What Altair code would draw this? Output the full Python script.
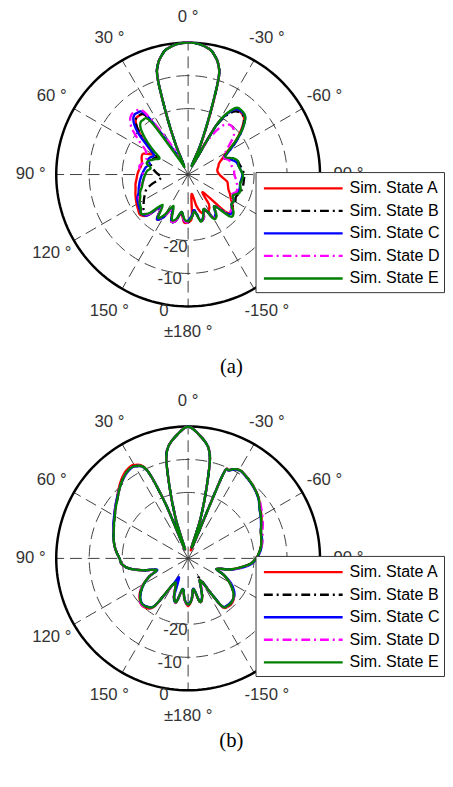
import math
import altair as alt
import pandas as pd

# ---------------- data (dB values) ----------------
ANGLES = [-180, -175, -170, -165, -160, -155, -150, -145, -140, -135, -130, -125, -120, -115, -110, -105,
          -100, -95, -90, -85, -80, -75, -70, -65, -60, -55, -50, -45, -40, -35, -30, -25,
          -22.5, -20, -17.5, -15, -12.5, -10, -5, 0, 5, 10, 12.5, 15, 17.5, 20, 22.5,
          25, 30, 35, 40, 45, 50, 55, 60, 65, 70, 75, 80, 85, 90, 95, 100,
          105, 110, 115, 120, 125, 130, 135, 140, 145, 150, 155, 160, 165, 170, 175]

SERIES = ["Sim. State A", "Sim. State B", "Sim. State C", "Sim. State D", "Sim. State E"]
COLORS = ["#ff0000", "#000000", "#0000ff", "#ff00ff", "#008000"]
DASHED = [False, True, False, True, False]

# panel (a)
A_RED = [-25.5, -27, -34, -30, -27.5, -27.8, -27.5, -29, -33, -24, -22.5, -23.5, -25, -26, -27, -27.5,
         -28, -29.5, -30.5, -31, -31, -30.5, -30, -28.5, -26.5, -22.5, -19, -16, -15.3, -16, -22, -35,
         -29, -20, -9, -5, -3, -1.5, -0.3, 0, -0.3, -1.5, -3, -5, -9, -21, -30,
         -37, -33, -19, -16.8, -17.5, -21, -25, -27.5, -25, -25, -25.5, -25.5, -25, -24.6, -24.3, -23.8,
         -23.5, -23, -22.5, -22, -21.5, -21, -22.5, -27, -23.5, -25, -28.5, -25, -25.5, -28, -25.5]
A_BLACK = [-25.5, -27, -29, -25.5, -26, -28.5, -24.8, -25, -27.5, -23, -22.5, -23.5, -23.5, -24, -23.5, -23,
           -23, -23, -23, -23.5, -24, -24.5, -26, -28, -25.5, -22, -18.5, -16, -15.5, -17, -23, -37,
           -30, -21, -9, -5, -3, -1.5, -0.3, 0, -0.3, -1.5, -3, -5, -9, -21, -30,
           -37, -33, -19, -16.6, -17.5, -21, -26, -29, -28.5, -28, -28.3, -29, -30, -31, -32, -31,
           -28.5, -26.5, -25.5, -24.5, -23.5, -22.5, -23, -27, -24, -25.5, -28.5, -25, -25.5, -28.5, -26]
A_BLUE = [-26, -27.5, -29, -25.5, -26.5, -28.5, -25, -25.5, -27.5, -23, -22.5, -24, -24, -25, -24, -23.8,
          -24, -23.8, -23.5, -24, -24.5, -25, -26.5, -28, -25.5, -22, -18.5, -15.5, -15, -16, -22.5, -37,
          -30, -21, -9, -5, -3, -1.5, -0.3, 0, -0.3, -1.5, -3, -5, -9, -21, -30,
          -37, -32, -18, -15.7, -16.5, -20, -25, -28, -27.5, -27, -28, -27, -26.5, -26, -25.5, -25,
          -24.5, -24, -23, -22.5, -22, -21.5, -22.5, -27, -23.5, -25, -28.5, -25, -25.5, -28.5, -26]
A_MAGENTA = [-25.5, -27, -28.5, -25.5, -26, -28.5, -25, -25, -27.5, -23.5, -23, -24, -24.5, -25.5, -24.5, -24.5,
             -25, -25.5, -26, -26, -26.5, -26.5, -27, -28, -27, -25, -22, -20.5, -20.3, -22, -28, -37,
             -30, -21, -9, -5, -3, -1.5, -0.3, 0, -0.3, -1.5, -3, -5, -9, -21, -30,
             -36, -29, -17, -15, -15.3, -17.5, -21.5, -25, -26, -26.5, -26, -25, -25.5, -26.5, -26.5, -26,
             -25, -24.5, -23.5, -23, -22.5, -22, -23, -27, -24, -25.5, -28, -25, -25.5, -28, -26]
A_GREEN = [-25.8, -27, -28.5, -25.3, -26.5, -28.5, -24.5, -25, -27.5, -22, -22, -24, -24, -25, -23.5, -23.5,
           -24, -23.5, -23.4, -24, -24.5, -24.3, -25.5, -27.5, -26, -22.5, -18.5, -15.5, -14.7, -15.5, -22, -37,
           -30, -21, -9, -5, -3, -1.5, -0.3, 0, -0.3, -1.5, -3, -5, -9, -21, -30,
           -37, -35, -20.5, -18.5, -19.5, -23, -27, -30, -29, -27.5, -27, -28.5, -27.5, -27, -26.5, -26,
           -25.5, -24.5, -24, -23, -22.5, -21.5, -23.5, -28, -24, -26, -29.5, -25.5, -26, -28.5, -26.5]

# panel (b)
B_RED = [-25.5, -27.5, -30.5, -26.4, -27.5, -31, -32, -22.3, -21, -21, -21.8, -23.3, -25.5, -28, -30.8, -27,
         -24, -21, -19.4, -18.3, -17.5, -17, -16.5, -15.5, -14.3, -13.3, -12, -11, -10.2, -9.5, -9, -10.5,
         -13, -37, -28, -19.3, -9.5, -5.5, -2.3, 0, -2.3, -5.5, -9.5, -19.3, -28, -37, -22,
         -10.3, -7.3, -7.4, -8.6, -10.2, -11.8, -13, -14.2, -15.1, -16, -16.6, -17.3, -18.2, -19.2, -19.8, -22,
         -26, -29.8, -27, -24.3, -22.2, -20.8, -20, -20.4, -22.2, -31, -31, -27.5, -26.3, -30.5, -27.5]
B_BLACK = [-26, -27.5, -30.5, -26.4, -27.5, -31, -33, -22.5, -21.3, -21.3, -22, -23.5, -25.5, -28, -30.8, -27,
           -24, -21, -19.4, -18.3, -17.5, -17, -16.5, -15.5, -14.5, -13.5, -12, -11, -10.2, -9.5, -9, -10.5,
           -13, -36, -28, -19.3, -9.5, -5.5, -2.3, 0, -2.3, -5.5, -9.5, -19.3, -28, -32, -22,
           -10.5, -7.7, -7.8, -9, -10.5, -12, -13.2, -14.3, -15.2, -16, -16.6, -17.3, -18.2, -19.2, -19.8, -22,
           -26, -29.8, -27, -24.5, -22.5, -21, -20.3, -20.8, -22.5, -31, -31, -27.5, -26.3, -30.5, -27.5]
B_BLUE = [-26.2, -27.7, -30.7, -26.6, -27.7, -31, -32, -22.7, -21.5, -21.5, -21.8, -23, -25, -28, -30.8, -26.8,
          -23.5, -20.7, -19.2, -18.1, -17.3, -16.8, -16.5, -15.6, -14.6, -13.6, -12.1, -11.1, -10.3, -9.6, -9.1, -10.6,
          -13, -36, -28, -19.3, -9.5, -5.5, -2.3, 0, -2.3, -5.5, -9.5, -19.3, -28, -37, -22,
          -10.6, -7.8, -8, -9.1, -10.4, -11.8, -13, -14.1, -15, -15.9, -16.6, -17.3, -18.2, -19.2, -19.8, -22,
          -26, -30, -27, -24.6, -22.6, -21.1, -20.4, -20.9, -22.6, -31, -33.5, -27.5, -26.4, -30.6, -27.6]
B_MAGENTA = [-26, -27.5, -30.5, -26.4, -27.3, -30.5, -32, -22.3, -21.2, -21.2, -22, -23.5, -25.5, -28, -30.5, -26.8,
             -23.8, -21, -19.4, -18.2, -17.3, -16.6, -16, -15, -14, -13, -11.8, -11, -10.2, -9.5, -9, -10.5,
             -13, -36, -28, -19.3, -9.5, -5.5, -2.3, 0, -2.3, -5.5, -9.5, -19.3, -28, -37, -22,
             -10.5, -7.7, -7.8, -9, -10.5, -12, -13.2, -14.3, -15.2, -16, -16.6, -17.3, -18.2, -19.2, -19.8, -22,
             -26, -29.5, -26.8, -24.3, -22.2, -20.8, -20.1, -20.6, -22.3, -30.5, -31, -27.3, -26.1, -30.3, -27.3]
B_GREEN = [-26, -27.5, -30.5, -26.4, -27.5, -31, -32, -22.5, -21.3, -21.3, -22, -23.5, -25.5, -28, -30.8, -27,
           -24, -21, -19.4, -18.3, -17.5, -17, -16.5, -15.5, -14.5, -13.5, -12, -11, -10.2, -9.5, -9, -10.5,
           -13, -36, -28, -19.3, -9.5, -5.5, -2.3, 0, -2.3, -5.5, -9.5, -19.3, -28, -37, -22,
           -10.5, -7.7, -7.8, -9, -10.5, -12, -13.2, -14.3, -15.2, -16, -16.6, -17.3, -18.2, -19.2, -19.8, -22,
           -26, -29.8, -27, -24.5, -22.5, -21, -20.3, -20.8, -22.5, -31, -31, -27.5, -26.3, -30.5, -27.5]

PANEL_A = [A_RED, A_BLACK, A_BLUE, A_MAGENTA, A_GREEN]
PANEL_B = [B_RED, B_BLACK, B_BLUE, B_MAGENTA, B_GREEN]

RINGS = [-20, -10]            # dashed rings (dB); outer solid ring at 0 dB
RING_LABELS = [-20, -10, 0]
ANGLE_TICKS = [0, 30, 60, 90, 120, 150, 180, -150, -120, -90, -60, -30]
ANGLE_TEXT = ["0 °", "30 °", "60 °", "90 °", "120 °", "150 °", "±180 °",
              "-150 °", "-120 °", "-90 °", "-60 °", "-30 °"]
CAPTIONS = ["(a)", "(b)"]
RMIN = -40

# ---------------- layout (pixels) ----------------
W, H = 444, 775
PX = 134 / 40.0           # pixels per dB of radius
CX = 183                  # polar centre x (chart px)
CY = [163, 553]           # polar centre y of each panel (chart px)
XMIN = -CX / PX
XMAX = (W - CX) / PX
YMAX = CY[0] / PX
YMIN = YMAX - H / PX


def ux(px):
    return XMIN + px / PX


def uy(py):
    return YMAX - py / PX


PANEL_CY = [0.0, -(CY[1] - CY[0]) / PX]
PANEL_OFF = [0, CY[1] - CY[0]]

xs = alt.Scale(domain=[XMIN, XMAX], nice=False, zero=False)
ys = alt.Scale(domain=[YMIN, YMAX], nice=False, zero=False)
X = lambda f: alt.X(f, type="quantitative", scale=xs, axis=None)
Y = lambda f: alt.Y(f, type="quantitative", scale=ys, axis=None)

# ---------------- tables ----------------
rows = []
for p, (panel, cy) in enumerate(zip(["a", "b"], PANEL_CY)):
    for s, vals in zip(SERIES, [PANEL_A, PANEL_B][p]):
        assert len(vals) == len(ANGLES)
        for k, (ang, db) in enumerate(zip(ANGLES, vals)):
            rows.append({"panel": panel, "cy": cy, "series": s, "ang": ang, "db": db, "k": k})
df = pd.DataFrame(rows)

ring_rows = []
for panel, cy in zip(["a", "b"], PANEL_CY):
    for v in RINGS + [0]:
        for k, ang in enumerate(range(0, 361, 2)):
            ring_rows.append({"panel": panel, "cy": cy, "ring": v, "ang": ang, "k": k})
rings = pd.DataFrame(ring_rows)

spoke_rows = []
for panel, cy in zip(["a", "b"], PANEL_CY):
    for ang in range(0, 360, 30):
        spoke_rows.append({"panel": panel, "cy": cy, "ang": ang, "x0": 0.0})
spokes = pd.DataFrame(spoke_rows)

lab_rows = []
for panel, cy in zip(["a", "b"], PANEL_CY):
    for ang, t in zip(ANGLE_TICKS, ANGLE_TEXT):
        lab_rows.append({"panel": panel, "cy": cy, "ang": ang, "text": t})
labels = pd.DataFrame(lab_rows)

rl_rows = []
for panel, cy in zip(["a", "b"], PANEL_CY):
    for v in RING_LABELS:
        rl_rows.append({"panel": panel, "cy": cy, "v": v, "text": str(v)})
rlabels = pd.DataFrame(rl_rows)

cap = pd.DataFrame({"text": CAPTIONS, "x": [ux(227)] * 2, "y": [uy(359), uy(739)]})

box = pd.DataFrame({"x": [ux(252)] * 2, "x2": [ux(443.5)] * 2,
                    "y": [uy(161 + o) for o in PANEL_OFF], "y2": [uy(283 + o) for o in PANEL_OFF]})
leg_rows = []
for o in PANEL_OFF:
    for i, s in enumerate(SERIES):
        leg_rows.append({"series": s, "i": i, "y": uy(177 + o + i * 22.9),
                         "x1": ux(260), "x2": ux(340), "xt": ux(347)})
leg = pd.DataFrame(leg_rows)

# ---------------- layers ----------------
GRID = "#3c3c3c"
layers = []

ring_base = alt.Chart(rings).transform_calculate(
    r=f"datum.ring - ({RMIN})",
    ux="-datum.r * sin(datum.ang * PI / 180)",
    uy="datum.cy + datum.r * cos(datum.ang * PI / 180)",
)
layers.append(ring_base.transform_filter("datum.ring < 0").mark_line(
    color=GRID, strokeWidth=1, strokeDash=[12, 6]).encode(
    x=X("ux"), y=Y("uy"), order="k:Q", detail=["ring:N", "panel:N"]))

layers.append(alt.Chart(spokes).transform_calculate(
    ux=f"-{-RMIN} * sin(datum.ang * PI / 180)",
    uy=f"datum.cy + {-RMIN} * cos(datum.ang * PI / 180)",
).mark_rule(color=GRID, strokeWidth=1, strokeDash=[12, 6]).encode(
    x=X("x0"), y=Y("cy"), x2="ux:Q", y2="uy:Q"))

layers.append(ring_base.transform_filter("datum.ring == 0").mark_line(
    color="#000000", strokeWidth=2.5).encode(
    x=X("ux"), y=Y("uy"), order="k:Q", detail="panel:N"))

for s, c, d in zip(SERIES, COLORS, DASHED):
    kw = dict(color=c, strokeWidth=2.4, interpolate="cardinal-closed")
    if d:
        kw["strokeDash"] = [9, 4, 2, 4]
    layers.append(alt.Chart(df[df.series == s]).transform_calculate(
        r=f"max(datum.db - ({RMIN}), 0)",
        ux="-datum.r * sin(datum.ang * PI / 180)",
        uy="datum.cy + datum.r * cos(datum.ang * PI / 180)",
    ).mark_line(**kw).encode(x=X("ux"), y=Y("uy"), order="k:Q", detail="panel:N"))

LABEL_R = 160 / PX
layers.append(alt.Chart(labels).transform_calculate(
    ux=f"-{LABEL_R} * sin(datum.ang * PI / 180)",
    uy=f"datum.cy + {LABEL_R} * cos(datum.ang * PI / 180)",
).mark_text(font="Liberation Sans", fontSize=17, color="#333333",
            align="center", baseline="middle").encode(
    x=X("ux"), y=Y("uy"), text="text:N"))

layers.append(alt.Chart(rlabels).transform_calculate(
    r=f"datum.v - ({RMIN}) + 2.2",
    ux="-datum.r * sin(170 * PI / 180)",
    uy="datum.cy + datum.r * cos(170 * PI / 180)",
).mark_text(font="Liberation Sans", fontSize=17, color="#333333",
            align="center", baseline="middle").encode(
    x=X("ux"), y=Y("uy"), text="text:N"))

layers.append(alt.Chart(cap).mark_text(font="Liberation Serif", fontSize=21, color="#000000",
                                       align="center", baseline="middle").encode(
    x=X("x"), y=Y("y"), text="text:N"))

# legend boxes
layers.append(alt.Chart(box).mark_rect(fill="#ffffff", stroke="#333333", strokeWidth=1).encode(
    x=X("x"), x2="x2:Q", y=Y("y"), y2="y2:Q"))
for s, c, d in zip(SERIES, COLORS, DASHED):
    kw = dict(color=c, strokeWidth=2.4)
    if d:
        kw["strokeDash"] = [9, 4, 2, 4]
    layers.append(alt.Chart(leg[leg.series == s]).mark_rule(**kw).encode(
        x=X("x1"), x2="x2:Q", y=Y("y")))
layers.append(alt.Chart(leg).mark_text(font="Liberation Sans", fontSize=16.3, color="#000000",
                                       align="left", baseline="middle").encode(
    x=X("xt"), y=Y("y"), text="series:N"))

chart = alt.layer(*layers).properties(
    width=W, height=H, padding=0, autosize=alt.AutoSizeParams(type="none"),
    background="#ffffff",
).configure_view(stroke=None)

chart.save("out.html", embed_options={"renderer": "svg", "actions": False})
